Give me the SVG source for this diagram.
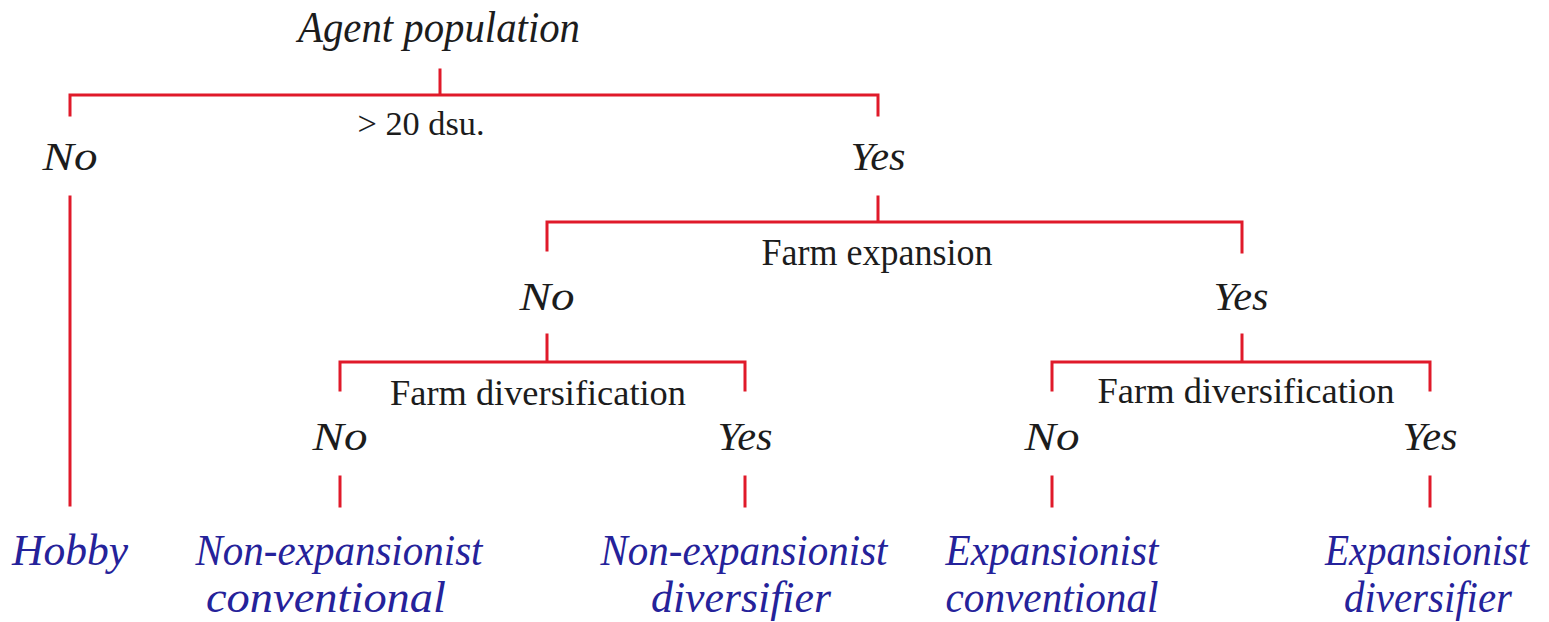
<svg xmlns="http://www.w3.org/2000/svg" width="1549" height="622" viewBox="0 0 1549 622">
  <style>
    .edge { stroke: #e01a2a; stroke-width: 3; fill: none; stroke-linecap: square; }
    .q { font-family: "Liberation Serif", "Times New Roman", serif; font-style: italic; fill: #1c1c1c; text-anchor: middle; }
    .crit { font-family: "Liberation Serif", "Times New Roman", serif; fill: #1c1c1c; text-anchor: middle; }
    .ans { font-family: "Liberation Serif", "Times New Roman", serif; font-style: italic; fill: #1c1c1c; text-anchor: middle; font-size: 40px; }
    .leaf { font-family: "Liberation Serif", "Times New Roman", serif; font-style: italic; fill: #25229a; text-anchor: middle; font-size: 44px; }
  </style>
  <rect width="1549" height="622" fill="#ffffff"/>

  <!-- tree connectors -->
  <g id="connectors">
    <path class="edge" d="M440 70 V95 M70 115 V95 H878 V115"/>
    <path class="edge" d="M70 197 V505"/>
    <path class="edge" d="M878 197 V222 M547 250 V222 H1242 V252"/>
    <path class="edge" d="M547 335 V362 M340 390 V362 H745 V390"/>
    <path class="edge" d="M1242 335 V362 M1052 390 V362 H1430 V390"/>
    <path class="edge" d="M340 477 V506 M745 477 V506"/>
    <path class="edge" d="M1052 477 V506 M1430 477 V506"/>
  </g>

  <g id="root">
    <text class="q" x="439" y="42" font-size="44" textLength="282" lengthAdjust="spacingAndGlyphs">Agent population</text>
    <text class="crit" x="421" y="135" font-size="34" textLength="127" lengthAdjust="spacingAndGlyphs">&gt; 20 dsu.</text>
  </g>

  <g id="size-no">
    <text class="ans" x="70" y="170" textLength="55" lengthAdjust="spacingAndGlyphs">No</text>
  </g>
  <g id="size-yes">
    <text class="ans" x="878" y="170" textLength="55" lengthAdjust="spacingAndGlyphs">Yes</text>
  </g>

  <g id="expansion">
    <text class="crit" x="877" y="265" font-size="38" textLength="231" lengthAdjust="spacingAndGlyphs">Farm expansion</text>
  </g>
  <g id="expansion-no">
    <text class="ans" x="547" y="310" textLength="55" lengthAdjust="spacingAndGlyphs">No</text>
  </g>
  <g id="expansion-yes">
    <text class="ans" x="1241" y="310" textLength="55" lengthAdjust="spacingAndGlyphs">Yes</text>
  </g>

  <g id="diversification-left">
    <text class="crit" x="538" y="405" font-size="36" textLength="296" lengthAdjust="spacingAndGlyphs">Farm diversification</text>
    <text class="ans" x="340" y="450" textLength="55" lengthAdjust="spacingAndGlyphs">No</text>
    <text class="ans" x="745" y="450" textLength="55" lengthAdjust="spacingAndGlyphs">Yes</text>
  </g>

  <g id="diversification-right">
    <text class="crit" x="1246" y="403" font-size="36" textLength="297" lengthAdjust="spacingAndGlyphs">Farm diversification</text>
    <text class="ans" x="1052" y="450" textLength="55" lengthAdjust="spacingAndGlyphs">No</text>
    <text class="ans" x="1430" y="450" textLength="55" lengthAdjust="spacingAndGlyphs">Yes</text>
  </g>

  <g id="hobby">
    <text class="leaf" x="70" y="565" textLength="116" lengthAdjust="spacingAndGlyphs">Hobby</text>
  </g>
  <g id="non-expansionist-conventional">
    <text class="leaf" x="339" y="565" textLength="287" lengthAdjust="spacingAndGlyphs">Non-expansionist</text>
    <text class="leaf" x="326" y="612" textLength="240" lengthAdjust="spacingAndGlyphs">conventional</text>
  </g>
  <g id="non-expansionist-diversifier">
    <text class="leaf" x="744" y="565" textLength="287" lengthAdjust="spacingAndGlyphs">Non-expansionist</text>
    <text class="leaf" x="741" y="612" textLength="180" lengthAdjust="spacingAndGlyphs">diversifier</text>
  </g>
  <g id="expansionist-conventional">
    <text class="leaf" x="1052" y="565" textLength="213" lengthAdjust="spacingAndGlyphs">Expansionist</text>
    <text class="leaf" x="1052" y="612" textLength="213" lengthAdjust="spacingAndGlyphs">conventional</text>
  </g>
  <g id="expansionist-diversifier">
    <text class="leaf" x="1427" y="565" textLength="204" lengthAdjust="spacingAndGlyphs">Expansionist</text>
    <text class="leaf" x="1428" y="612" textLength="168" lengthAdjust="spacingAndGlyphs">diversifier</text>
  </g>
</svg>
